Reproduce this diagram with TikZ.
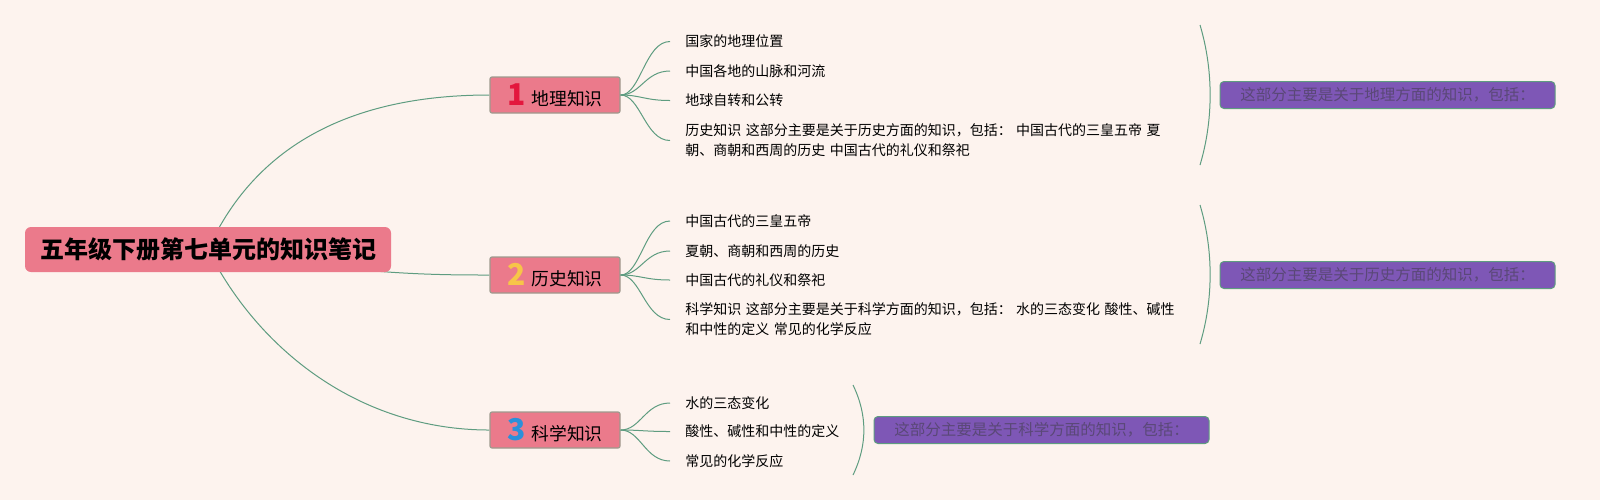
\documentclass[tikz,border=0pt]{standalone}
\usepackage{fontspec}
\setmainfont{Noto Sans CJK SC}

\pgfdeclarelayer{canvas}
\pgfdeclarelayer{back}
\pgfsetlayers{canvas,back,main}

\definecolor{bgcol}{HTML}{FDF3EE}
\definecolor{pinkcol}{HTML}{EB7A8B}
\definecolor{edgecol}{HTML}{9E9A8E}
\definecolor{purplecol}{HTML}{7E57B6}
\definecolor{sumtext}{HTML}{5A4877}
\definecolor{linkcol}{HTML}{5E9C80}
\definecolor{numred}{HTML}{E3173D}
\definecolor{numyellow}{HTML}{F7C548}
\definecolor{numblue}{HTML}{2B90DA}

\begin{document}
\begin{tikzpicture}[
      x = 0.5pt, y = -0.5pt, % one unit is one pixel, y runs down
      link/.style = {draw=linkcol, line width=0.5pt},
      rootbox/.style = {fill=pinkcol, rounded corners=3pt, minimum width=183pt,
        minimum height=22.5pt, inner sep=0pt, font=\fontsize{12}{14}\selectfont\bfseries},
      branchbox/.style = {fill=pinkcol, draw=edgecol, line width=0.6pt, rounded corners=1pt,
        minimum width=65pt, minimum height=18pt, inner sep=0pt, font=\fontsize{8.9}{10}\selectfont},
      leaf/.style = {anchor=west, inner xsep=7.5pt, inner ysep=1pt, align=left,
        font=\fontsize{7}{9.9}\selectfont\spaceskip 2.2pt\relax},
      summarybox/.style = {fill=purplecol, draw=linkcol, line width=0.5pt, rounded corners=2pt,
        minimum width=167.5pt, minimum height=13.5pt, inner sep=0pt, text=sumtext,
        font=\fontsize{7.75}{9}\selectfont}
  ]

\useasboundingbox (0,0) rectangle (1600,500);
\begin{pgfonlayer}{canvas}
\fill[bgcol] (0,0) rectangle (1600,500);
\end{pgfonlayer}

% root and main branches
\node[rootbox] (root) at (208,249.5) {五年级下册第七单元的知识笔记};
\node[branchbox] (b1) at (555,95) {\textcolor{numred}{\fontsize{15}{15}\selectfont\bfseries 1}\hspace{3pt}地理知识};
\node[branchbox] (b2) at (555,275) {\textcolor{numyellow}{\fontsize{15}{15}\selectfont\bfseries 2}\hspace{3pt}历史知识};
\node[branchbox] (b3) at (555,430) {\textcolor{numblue}{\fontsize{15}{15}\selectfont\bfseries 3}\hspace{3pt}科学知识};

\begin{pgfonlayer}{back}
\draw[link] (root.center) .. controls +(50,-110) and +(-130,0) .. (b1.west);
\draw[link] (root.center) .. controls +(150,25) and +(-60,0) .. (b2.west);
\draw[link] (root.center) .. controls +(50,100) and +(-130,0) .. (b3.west);
\end{pgfonlayer}

% leaves
\node[leaf] (la4) at (670,140.5) {历史知识 这部分主要是关于历史方面的知识，包括： 中国古代的三皇五帝 夏\\朝、商朝和西周的历史 中国古代的礼仪和祭祀};
\node[leaf] (lb4) at (670,319.5) {科学知识 这部分主要是关于科学方面的知识，包括： 水的三态变化 酸性、碱性\\和中性的定义 常见的化学反应};

\foreach \i/\ypos/\txt in {1/41.5/国家的地理位置, 2/71/中国各地的山脉和河流, 3/100.5/地球自转和公转}{
    \node[leaf] (la\i) at (670,\ypos) {\txt};
}
\foreach \i/\ypos/\txt in {1/221/中国古代的三皇五帝, 2/251/夏朝、商朝和西周的历史, 3/280/中国古代的礼仪和祭祀}{
    \node[leaf] (lb\i) at (670,\ypos) {\txt};
}
\foreach \i/\ypos/\txt in {1/403/水的三态变化, 2/431.5/酸性、碱性和中性的定义, 3/461/常见的化学反应}{
    \node[leaf] (lc\i) at (670,\ypos) {\txt};
}

\foreach \i in {1,2,3,4}{
    \draw[link] (b1.east) .. controls +(20,0) and +(-25,0) .. (la\i.west);
    \draw[link] (b2.east) .. controls +(20,0) and +(-25,0) .. (lb\i.west);
}
\foreach \i in {1,2,3}{
    \draw[link] (b3.east) .. controls +(20,0) and +(-25,0) .. (lc\i.west);
}

% summaries
\draw[link] (1200,25) .. controls (1213.5,70) and (1213.5,120) .. (1200,165);
\node[summarybox] (s1) at (1387.5,95) {这部分主要是关于地理方面的知识，包括：};

\draw[link] (1200,205) .. controls (1213.5,250) and (1213.5,299) .. (1200,344);
\node[summarybox] (s2) at (1387.5,275) {这部分主要是关于历史方面的知识，包括：};

\draw[link] (853,385) .. controls (867.5,415) and (867.5,445) .. (853,475);
\node[summarybox] (s3) at (1041.5,430) {这部分主要是关于科学方面的知识，包括：};

\end{tikzpicture}
\end{document}
